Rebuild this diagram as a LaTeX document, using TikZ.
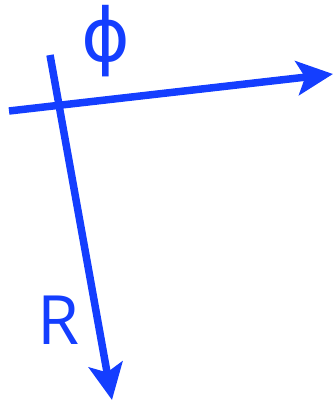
\documentclass[tikz,border=0pt]{standalone}
\usepackage{fontspec}
\setmainfont{Open Sans}
\newfontfamily\phifont{DejaVu Sans}
\usetikzlibrary{arrows.meta}
\definecolor{axisblue}{RGB}{20,62,255}

\begin{document}
\begin{tikzpicture}[x=1pt,y=-1pt,
	axis/.style={axisblue,line width=7.5pt,-{Stealth[length=36pt,width=34pt,inset=8pt]}},
	lab/.style={axisblue,font=\fontsize{68}{68}\selectfont,inner sep=0pt}]
	\useasboundingbox (0,0) rectangle (334,404);
	% axis ends
	\coordinate (hs) at (9,111);
	\coordinate (he) at (333,74);
	\coordinate (vs) at (50,55);
	\coordinate (ve) at (112,400);
	\draw[axis] (hs) -- (he);
	\draw[axis] (vs) -- (ve);
	% labels
	\node[lab,font=\fontsize{74}{74}\selectfont] (phi) at (106,41) {\phifont ϕ};
	\node[lab] (r) at (59,320) {R};
\end{tikzpicture}
\end{document}
